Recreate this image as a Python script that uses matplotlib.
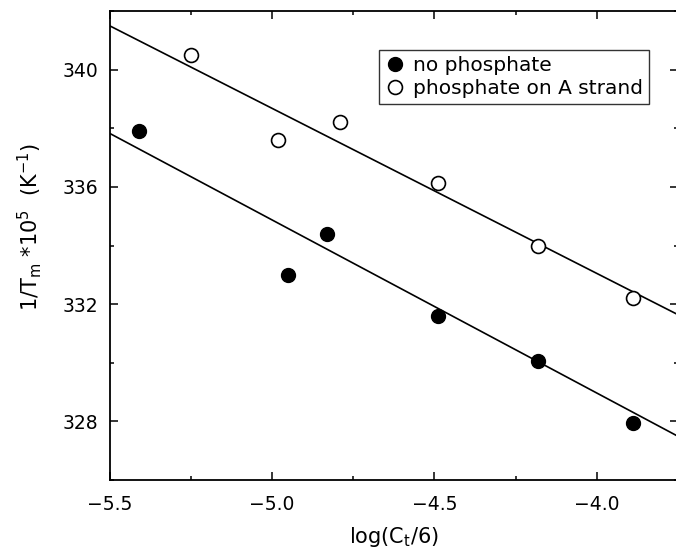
import matplotlib
matplotlib.use("Agg")
import matplotlib.pyplot as plt
from matplotlib.ticker import MultipleLocator

# values
no_phos_x = [-5.41, -4.95, -4.83, -4.49, -4.18, -3.89]
no_phos_y = [337.9, 333.0, 334.4, 331.6, 330.05, 327.95]

phos_x = [-5.25, -4.98, -4.79, -4.49, -4.18, -3.89]
phos_y = [340.5, 337.6, 338.2, 336.15, 334.0, 332.2]

# fitted lines (end values)
fit_x = [-5.5, -3.75]
fit_no_phos = [337.83, 327.49]
fit_phos = [341.5, 331.64]

x_ticks = [-5.5, -5.0, -4.5, -4.0]
y_ticks = [328, 332, 336, 340]

plt.rcParams["font.family"] = ["DejaVu Sans"]
plt.rcParams["font.size"] = 13.5

fig = plt.figure(figsize=(6.76, 5.53), dpi=100)
ax = fig.add_axes([0.162, 0.132, 0.841, 0.848])

ax.plot(fit_x, fit_phos, color="black", lw=1.2)
ax.plot(fit_x, fit_no_phos, color="black", lw=1.2)

ax.plot(no_phos_x, no_phos_y, "o", color="black", ms=10, ls="none",
        label="no phosphate")
ax.plot(phos_x, phos_y, "o", mfc="white", mec="black", mew=1.2, ms=10,
        ls="none", label="phosphate on A strand")

ax.set_xlim(-5.5, -3.75)
ax.set_ylim(326, 342)
ax.set_xticks(x_ticks)
ax.set_xticklabels([f"{v:.1f}".replace("-", "\u2212") for v in x_ticks])
ax.set_yticks(y_ticks)
ax.xaxis.set_minor_locator(MultipleLocator(0.25))
ax.yaxis.set_minor_locator(MultipleLocator(2))

ax.tick_params(which="both", direction="in", top=True, right=True, width=1.1)
ax.tick_params(which="major", length=6)
ax.tick_params(which="minor", length=3)
ax.tick_params(axis="x", pad=11)
ax.tick_params(axis="y", pad=8)

for sp in ax.spines.values():
    sp.set_linewidth(1.3)

ax.set_xlabel(r"log(C$_\mathregular{t}$/6)", fontsize=15, labelpad=8)
ax.set_ylabel(r"1/T$_\mathregular{m}$ *10$^\mathregular{5}$  (K$^\mathregular{-1}$)",
              fontsize=15)
ax.yaxis.set_label_coords(-0.115, 0.54)

leg = ax.legend(loc="upper left", bbox_to_anchor=(0.474, 0.917),
                frameon=True, fancybox=False, edgecolor="black",
                handletextpad=0.4, borderpad=0.3, labelspacing=0.2,
                handlelength=1.0, borderaxespad=0, fontsize=14.5)
leg.get_frame().set_linewidth(1.0)

fig.savefig("out.png", dpi=100)
